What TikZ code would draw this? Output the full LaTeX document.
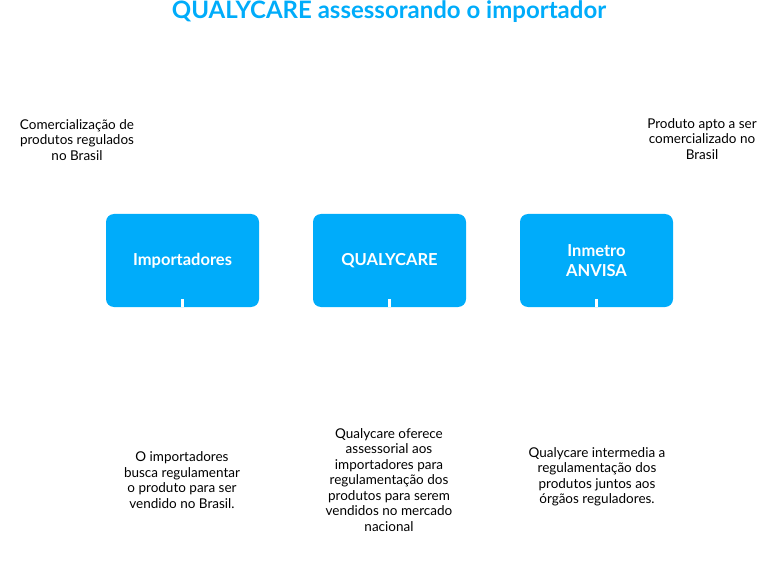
\documentclass[tikz,border=0pt]{standalone}
\usepackage{fontspec}
\setmainfont{Lato}
\usetikzlibrary{positioning}
\definecolor{qualyblue}{RGB}{0, 172, 250}

\begin{document}
\begin{tikzpicture}[
    x=1pt, y=-1pt,
    box/.style={rectangle, fill=qualyblue, text=white, minimum width=153pt, minimum height=93pt, rounded corners=8pt, align=center, font=\bfseries\fontsize{16.5}{20}\selectfont},
    note/.style={align=center, font=\fontsize{13.5}{15.5}\selectfont},
    tick/.style={white, line width=2.5pt}
]
\useasboundingbox (0,0) rectangle (779,588);

% Title
\node[text=qualyblue, font=\bfseries\fontsize{24}{27}\selectfont, inner sep=1pt] (title) at (389,12) {QUALYCARE assessorando o importador};

% Side notes
\node[note] (market) at (77,140) {Comercialização de\\produtos regulados\\no Brasil};
\node[note] (apt) at (702,139) {Produto apto a ser\\comercializado no\\Brasil};

% Boxes
\node[box] (importers) at (182.5,260.5) {Importadores};
\node[box] (qualycare) at (389.5,260.5) {QUALYCARE};
\node[box] (agencies) at (596.5,260.5) {Inmetro\\ANVISA};

% Descriptions
\node[note] (importersnote) at (182,480) {O importadores\\busca regulamentar\\o produto para ser\\vendido no Brasil.};
\node[note] (qualynote) at (389,480) {Qualycare oferece\\assessorial aos\\importadores para\\regulamentação dos\\produtos para serem\\vendidos no mercado\\nacional};
\node[note] (agenciesnote) at (597,477) {Qualycare intermedia a\\regulamentação dos\\produtos juntos aos\\órgãos reguladores.};

% Ticks
\coordinate (t1) at (182.5,299);
\coordinate (t2) at (389.5,299);
\coordinate (t3) at (596.5,299);
\draw[tick] (t1) -- (importers.south);
\draw[tick] (t2) -- (qualycare.south);
\draw[tick] (t3) -- (agencies.south);

\end{tikzpicture}
\end{document}
